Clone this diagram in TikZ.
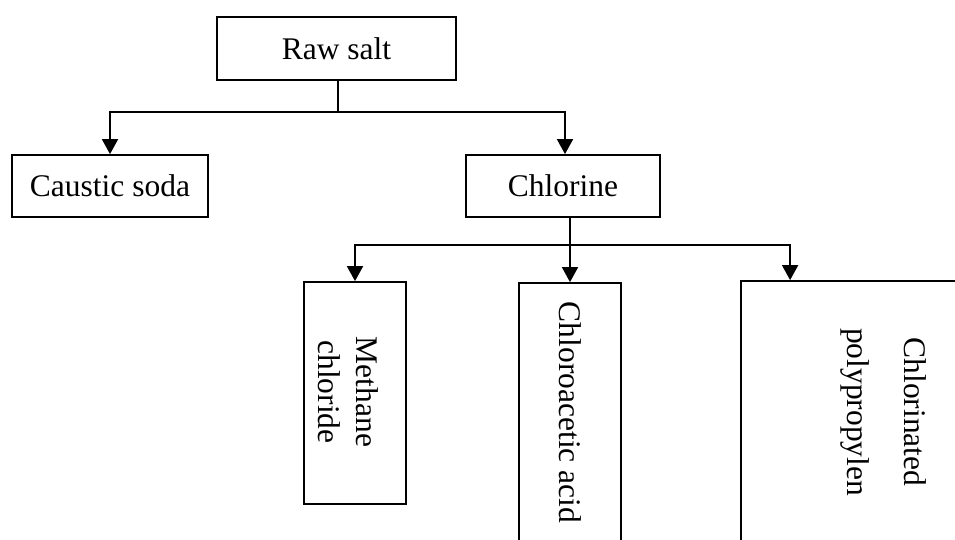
\documentclass[tikz,border=0pt]{standalone}
\usepackage{fontspec}
\setmainfont{Liberation Serif}
\usetikzlibrary{arrows.meta,calc}
\begin{document}
\begin{tikzpicture}[x=1pt,y=-1pt,
  txt/.style={font=\fontsize{31.5}{40}\selectfont},
  box/.style={draw,line width=1.8pt,inner sep=0pt,txt},
  vtext/.style={rotate=-90,align=center,inner sep=0pt,txt},
  conn/.style={line width=1.8pt},
  arr/.style={conn,-{Triangle[width=16pt,length=15pt]}}]
\useasboundingbox (0,0) rectangle (955,539);
\clip (0,0) rectangle (955,539);
% boxes
\node[box,minimum width=239pt,minimum height=63pt] (raw) at (336.5,48.5) {Raw salt};
\node[box,minimum width=196pt,minimum height=62pt] (caustic) at (110,186) {Caustic soda};
\node[box,minimum width=194pt,minimum height=62pt] (chlorine) at (563,186) {Chlorine};
\node[box,minimum width=102pt,minimum height=222pt] (methane) at (355,393) {};
\node[box,minimum width=102pt,minimum height=259pt] (chloro) at (570,412.5) {};
\node[box,minimum width=286pt,minimum height=262pt] (cpp) at (884,412) {};
% rotated labels
\node[vtext,font=\fontsize{31.5}{38}\selectfont] (tmethane) at (348,392) {Methane\\chloride};
\node[vtext] (tchloro) at (570,412.5) {Chloroacetic acid};
\node[vtext,font=\fontsize{31.5}{57}\selectfont] (tcpp) at (884,412) {Chlorinated\\polypropylen};
% connectors
\coordinate (j1) at ($(raw.south)+(1.5,31)$);
\draw[conn] ($(raw.south)+(1.5,0)$) -- (j1);
\draw[arr] (j1) -| (caustic.north);
\draw[arr] (j1) -| ($(chlorine.north)+(2,0)$);
\coordinate (j2) at ($(chlorine.south)+(7,27)$);
\draw[conn] ($(chlorine.south)+(7,0)$) -- (j2);
\draw[arr] (j2) -| (methane.north);
\draw[arr] (j2) -| (chloro.north);
\coordinate (cppin) at ($(cpp.north west)+(50,0)$);
\draw[arr] (j2) -| (cppin);
\end{tikzpicture}
\end{document}
